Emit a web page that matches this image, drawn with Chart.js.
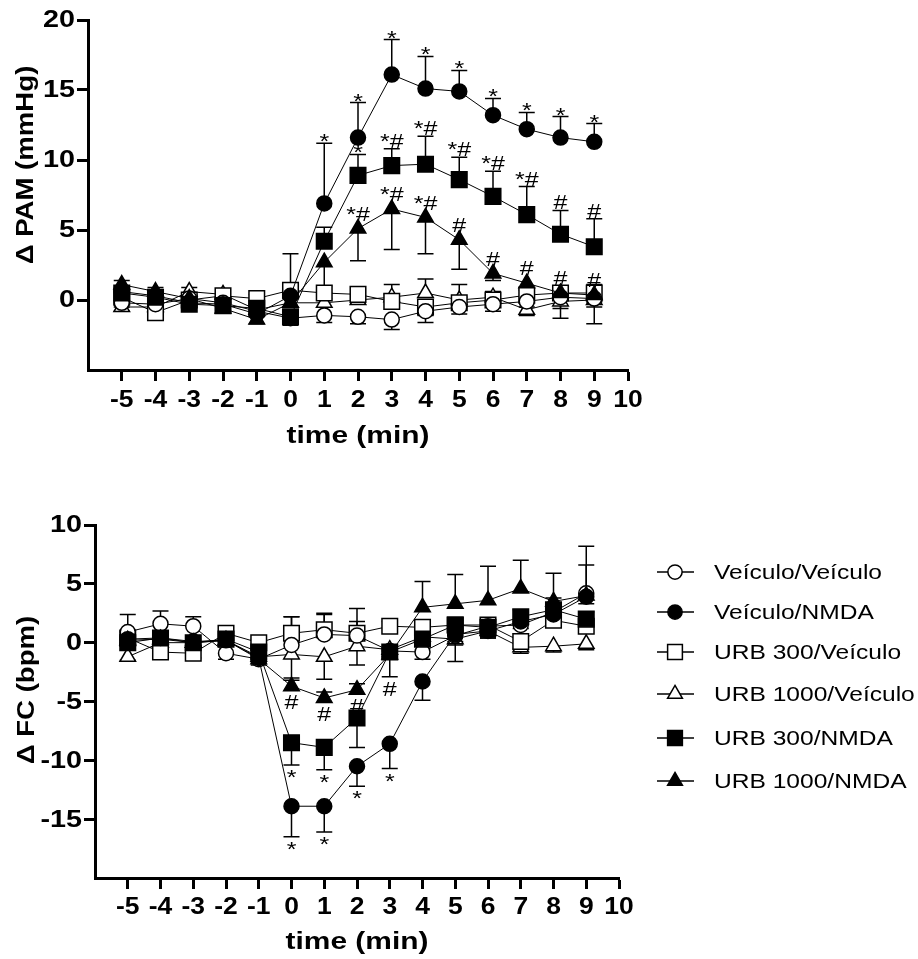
<!DOCTYPE html>
<html lang="pt">
<head>
<meta charset="UTF-8">
<title>PAM e FC - NMDA / URB</title>
<script src="https://cdn.jsdelivr.net/npm/chart.js@4"></script>
<style>
    body {
        margin: 0;
        background: #fff;
    }
    .wrap {
        position: relative;
        width: 918px;
        height: 959px;
    }
    #chart-pam { position: absolute; left: 0; top: 0; }
    #chart-fc { position: absolute; left: 0; top: 480px; }
</style>
</head>
<body>
<div class="wrap">
    <canvas id="chart-pam" width="918" height="460"></canvas>
    <canvas id="chart-fc" width="918" height="479"></canvas>
</div>
<script>
// tempos (min) e marcas dos eixos
const times = [-5, -4, -3, -2, -1, 0, 1, 2, 3, 4, 5, 6, 7, 8, 9];
const xTicks = [-5, -4, -3, -2, -1, 0, 1, 2, 3, 4, 5, 6, 7, 8, 9, 10];
const pamTicks = [0, 5, 10, 15, 20];
const fcTicks = [-15, -10, -5, 0, 5, 10];

const groupLabels = ['Veículo/Veículo', 'Veículo/NMDA', 'URB 300/Veículo', 'URB 1000/Veículo', 'URB 300/NMDA', 'URB 1000/NMDA'];

// ΔPAM (mmHg) - média e EPM (sinal = direção da barra)
const pamVehVeh = [-0.2, -0.3, 0.1, -0.2, -0.8, -1.3, -1.1, -1.2, -1.4, -0.8, -0.5, -0.3, -0.1, 0.2, 0.1];
const pamVehVehErr = [-0.3, -0.3, -0.3, -0.3, -0.4, -0.5, -0.5, -0.5, -0.7, -0.8, -0.5, -0.5, -0.4, -1.5, -1.8];
const pamVehNmda = [0.6, 0.3, -0.2, -0.3, -1.0, 0.3, 6.9, 11.6, 16.1, 15.1, 14.9, 13.2, 12.2, 11.6, 11.3];
const pamVehNmdaErr = [0.3, 0.3, 0.3, 0.3, 0.3, 3.0, 4.3, 2.5, 2.5, 2.3, 1.5, 1.2, 1.2, 1.5, 1.3];
const pamUrb300Veh = [0.2, -0.9, 0.0, 0.3, 0.1, 0.7, 0.5, 0.4, -0.1, -0.5, -0.2, 0.0, 0.35, 0.5, 0.5];
const pamUrb300VehErr = [0.3, -0.3, 0.3, 0.3, 0.3, 0.4, 0.5, 0.4, 0.5, -0.6, 0.4, 0.4, 0.4, 0.4, 0.6];
const pamUrb1000Veh = [-0.5, -0.5, 0.6, 0.4, -0.7, -0.2, -0.2, 0.0, 0.2, 0.5, 0.0, 0.2, -0.7, -0.1, 0.0];
const pamUrb1000VehErr = [-0.3, -0.3, 0.3, 0.3, -0.3, 0.3, 0.3, 0.3, 0.9, 1.0, 1.1, 0.4, -0.4, -0.5, -0.5];
const pamUrb300Nmda = [0.5, 0.2, -0.3, -0.4, -0.6, -1.2, 4.2, 8.9, 9.6, 9.7, 8.6, 7.4, 6.1, 4.7, 3.8];
const pamUrb300NmdaErr = [0.3, 0.3, 0.3, 0.3, 0.3, -0.5, 1.0, 1.5, 1.2, 2.0, 1.6, 1.8, 2.0, 1.7, 2.0];
const pamUrb1000Nmda = [1.1, 0.6, 0.1, -0.6, -1.4, -0.2, 2.7, 5.1, 6.5, 5.9, 4.3, 1.9, 1.2, 0.5, 0.35];
const pamUrb1000NmdaErr = [0.3, 0.3, 0.3, -0.3, -0.3, 0.3, -2.2, -2.3, -2.9, -2.6, -2.1, -0.5, -0.5, -0.5, -0.5];

const pamVehNmdaSig = ['', '', '', '', '', '', '*', '*', '*', '*', '*', '*', '*', '*', '*'];
const pamUrb300NmdaSig = ['', '', '', '', '', '', '', '*', '*#', '*#', '*#', '*#', '*#', '#', '#'];
const pamUrb1000NmdaSig = ['', '', '', '', '', '', '', '*#', '*#', '*#', '#', '#', '#', '#', '#'];

// ΔFC (bpm)
const fcVehVeh = [0.9, 1.6, 1.4, -0.9, -1.4, -0.2, 0.7, 0.6, -0.7, -0.8, 0.6, 1.4, 1.5, 2.6, 4.2];
const fcVehVehErr = [1.5, 1.1, 0.8, -0.5, -0.5, 2.4, 1.8, 2.3, -0.5, -0.6, -2.2, -1.0, -1.0, 1.2, 2.4];
const fcVehNmda = [0.3, 0.4, 0.1, 0.2, -1.3, -13.9, -13.9, -10.5, -8.6, -3.3, 0.7, 1.0, 1.8, 2.4, 3.9];
const fcVehNmdaErr = [-0.3, -0.3, -0.3, -0.3, -0.4, -2.6, -2.2, -1.7, -2.1, -1.6, -0.6, -0.6, -0.6, -0.6, -0.6];
const fcUrb300Veh = [0.4, -0.8, -0.9, 0.8, 0.0, 0.8, 1.1, 0.8, 1.4, 1.3, 1.5, 1.5, 0.1, 1.9, 1.4];
const fcUrb300VehErr = [0.3, -0.4, -0.4, 0.6, 0.3, 1.4, 1.3, 1.0, 0.4, 0.5, 0.4, 0.5, -0.6, 0.6, 0.5];
const fcUrb1000Veh = [-1.2, 0.0, 0.0, 0.2, -1.2, -1.0, -1.2, -0.3, -0.6, 0.5, 0.3, 1.0, -0.4, -0.3, -0.1];
const fcUrb1000VehErr = [-0.3, -0.4, -0.4, -0.4, -0.4, -2.0, -1.9, -1.6, -0.6, -0.5, -0.5, -0.5, -0.5, -0.5, -0.5];
const fcUrb300Nmda = [0.0, 0.4, 0.0, 0.3, -0.8, -8.5, -8.9, -6.4, -0.8, 0.3, 1.5, 1.3, 2.2, 2.8, 2.0];
const fcUrb300NmdaErr = [-0.3, -0.3, -0.3, -0.3, -0.3, -1.9, -1.9, -2.5, -2.1, -0.6, 0.6, 0.6, 0.6, 0.6, 0.6];
const fcUrb1000Nmda = [0.2, 0.3, 0.0, 0.2, -1.4, -3.7, -4.7, -4.0, -1.0, 3.0, 3.3, 3.6, 4.6, 3.5, 4.0];
const fcUrb1000NmdaErr = [0.3, 0.3, 0.3, 0.3, 0.3, 0.5, 0.5, 0.5, 0.5, 2.2, 2.5, 2.9, 2.4, 2.4, 4.2];

const fcVehNmdaSig = ['', '', '', '', '', '*', '*', '*', '*', '', '', '', '', '', ''];
const fcUrb300NmdaSig = ['', '', '', '', '', '*', '*', '', '#', '', '', '', '', '', ''];
const fcUrb1000NmdaSig = ['', '', '', '', '', '#', '#', '#', '', '', '', '', '', '', ''];

// símbolos de cada grupo (mesma ordem da legenda)
const markers = [
    { style: 'circle', fill: '#fff', radius: 7.5 },
    { style: 'circle', fill: '#000', radius: 7.5 },
    { style: 'rect', fill: '#fff', radius: 11 },
    { style: 'triangle', fill: '#fff', radius: 9 },
    { style: 'rect', fill: '#000', radius: 11 },
    { style: 'triangle', fill: '#000', radius: 9 }
];

const FONT = '"Liberation Sans", Arial, sans-serif';

function stretchText(ctx, str, x, y, o) {
    ctx.save();
    ctx.font = o.font;
    ctx.fillStyle = '#000';
    ctx.textAlign = o.align || 'center';
    ctx.textBaseline = o.baseline || 'middle';
    ctx.translate(x, y);
    if (o.rotate) ctx.rotate(o.rotate);
    ctx.scale(o.sx || 1, 1);
    ctx.fillText(str, 0, 0);
    ctx.restore();
}

function makeDataset(idx, values, err, sig, sigSide) {
    const m = markers[idx];
    return {
        label: groupLabels[idx],
        data: times.map((t, i) => ({ x: t, y: values[i] })),
        err: err,
        sig: sig || null,
        sigSide: sigSide,
        borderColor: '#000',
        borderWidth: 1,
        pointStyle: m.style,
        pointRadius: m.radius,
        pointHoverRadius: m.radius,
        pointBackgroundColor: m.fill,
        pointBorderColor: '#000',
        pointBorderWidth: 1.5,
        tension: 0,
        fill: false,
        clip: false,
        // símbolos cheios por cima dos vazios
        order: m.fill === '#000' ? 0 : 1
    };
}

// barras de erro (desenhadas antes das linhas e símbolos)
const errorBarsPlugin = {
    id: 'errorBars',
    beforeDatasetsDraw(chart) {
        const ctx = chart.ctx;
        const yScale = chart.scales.y;
        ctx.save();
        ctx.strokeStyle = '#000';
        ctx.lineWidth = 1.5;
        chart.data.datasets.forEach((ds, di) => {
            const meta = chart.getDatasetMeta(di);
            meta.data.forEach((pt, i) => {
                const yEnd = yScale.getPixelForValue(ds.data[i].y + ds.err[i]);
                ctx.beginPath();
                ctx.moveTo(pt.x, pt.y);
                ctx.lineTo(pt.x, yEnd);
                ctx.moveTo(pt.x - 8, yEnd);
                ctx.lineTo(pt.x + 8, yEnd);
                ctx.stroke();
            });
        });
        ctx.restore();
    },
    afterDatasetsDraw(chart) {
        // marcas de significância (* e #)
        const ctx = chart.ctx;
        const yScale = chart.scales.y;
        chart.data.datasets.forEach((ds, di) => {
            if (!ds.sig) return;
            const meta = chart.getDatasetMeta(di);
            meta.data.forEach((pt, i) => {
                const s = ds.sig[i];
                if (!s) return;
                const e = ds.err[i];
                const yEnd = yScale.getPixelForValue(ds.data[i].y + e);
                const r = ds.pointRadius * 0.75;
                if (ds.sigSide === 'up') {
                    const anchor = e > 0 ? Math.min(yEnd, pt.y - r) : pt.y - r;
                    const shift = s === '*' ? 5 : -1;
                    stretchText(ctx, s, pt.x, anchor + shift, { font: '20px ' + FONT, sx: 1.25, baseline: 'alphabetic' });
                } else {
                    const anchor = e < 0 ? Math.max(yEnd, pt.y + r * 0.6) : pt.y + r * 0.6;
                    stretchText(ctx, s, pt.x, anchor + 5 + 14, { font: '20px ' + FONT, sx: 1.25, baseline: 'alphabetic' });
                }
            });
        });
    }
};

// rótulos dos eixos e títulos
const axisTextPlugin = {
    id: 'axisText',
    afterDraw(chart, args, opts) {
        const ctx = chart.ctx;
        const xs = chart.scales.x;
        const ys = chart.scales.y;
        const tickFont = 'bold 23px ' + FONT;
        opts.yTicks.forEach(v => {
            stretchText(ctx, String(v), ys.right - 13, ys.getPixelForValue(v) + 1, { font: tickFont, sx: 1.25, align: 'right' });
        });
        xTicks.forEach(v => {
            stretchText(ctx, String(v), xs.getPixelForValue(v), opts.xLabelY, { font: tickFont, sx: 1.15 });
        });
        stretchText(ctx, 'time (min)', (xs.left + xs.right) / 2, opts.xTitleY, { font: tickFont, sx: 1.3 });
        stretchText(ctx, opts.yTitle, opts.yTitleX, opts.yTitleY, { font: tickFont, sx: 1.2, rotate: -Math.PI / 2 });
    }
};

// legenda do gráfico de FC
const legendPlugin = {
    id: 'sideLegend',
    afterDraw(chart, args, opts) {
        if (!opts.show) return;
        const ctx = chart.ctx;
        const rows = [92, 132, 172, 214, 258, 301];
        markers.forEach((m, i) => {
            const y = rows[i];
            ctx.save();
            ctx.strokeStyle = '#000';
            ctx.fillStyle = m.fill;
            ctx.lineWidth = 1.5;
            ctx.beginPath();
            ctx.moveTo(657, y);
            ctx.lineTo(694, y);
            ctx.stroke();
            Chart.helpers.drawPoint(ctx, {
                pointStyle: m.style,
                radius: m.radius * 0.95,
                rotation: 0,
                borderWidth: 1.5
            }, 675, y);
            ctx.restore();
            stretchText(ctx, groupLabels[i], 714, y + 1, { font: '21px ' + FONT, sx: 1.17, align: 'left' });
        });
    }
};

function axisOptions(yMin, yMax, yTickVals, yWidth, xHeight) {
    return {
        x: {
            type: 'linear',
            min: -6,
            max: 10,
            afterBuildTicks: s => { s.ticks = xTicks.map(v => ({ value: v })); },
            afterFit: s => { s.height = xHeight; },
            ticks: { display: false },
            grid: { display: true, drawOnChartArea: false, drawTicks: true, tickLength: 11, tickWidth: 3, tickColor: '#000' },
            border: { display: true, color: '#000', width: 3 }
        },
        y: {
            type: 'linear',
            min: yMin,
            max: yMax,
            afterBuildTicks: s => { s.ticks = yTickVals.map(v => ({ value: v })); },
            afterFit: s => { s.width = yWidth; },
            ticks: { display: false },
            grid: { display: true, drawOnChartArea: false, drawTicks: true, tickLength: 11, tickWidth: 3, tickColor: '#000' },
            border: { display: true, color: '#000', width: 3 }
        }
    };
}

Chart.defaults.animation = false;

// ΔPAM
new Chart(document.getElementById('chart-pam'), {
    type: 'line',
    data: {
        datasets: [
            makeDataset(1, pamVehNmda, pamVehNmdaErr, pamVehNmdaSig, 'up'),
            makeDataset(4, pamUrb300Nmda, pamUrb300NmdaErr, pamUrb300NmdaSig, 'up'),
            makeDataset(5, pamUrb1000Nmda, pamUrb1000NmdaErr, pamUrb1000NmdaSig, 'up'),
            makeDataset(0, pamVehVeh, pamVehVehErr),
            makeDataset(2, pamUrb300Veh, pamUrb300VehErr),
            makeDataset(3, pamUrb1000Veh, pamUrb1000VehErr)
        ]
    },
    options: {
        responsive: false,
        animation: false,
        layout: { padding: { left: 0, top: 20, right: 290, bottom: 0 } },
        scales: axisOptions(-5, 20, pamTicks, 88, 90),
        plugins: {
            legend: { display: false },
            tooltip: { enabled: false },
            axisText: { yTicks: pamTicks, xLabelY: 401, xTitleY: 437, yTitle: 'Δ PAM (mmHg)', yTitleX: 27, yTitleY: 165 },
            sideLegend: { show: false }
        }
    },
    plugins: [errorBarsPlugin, axisTextPlugin, legendPlugin]
});

// ΔFC
new Chart(document.getElementById('chart-fc'), {
    type: 'line',
    data: {
        datasets: [
            makeDataset(1, fcVehNmda, fcVehNmdaErr, fcVehNmdaSig, 'down'),
            makeDataset(4, fcUrb300Nmda, fcUrb300NmdaErr, fcUrb300NmdaSig, 'down'),
            makeDataset(5, fcUrb1000Nmda, fcUrb1000NmdaErr, fcUrb1000NmdaSig, 'down'),
            makeDataset(0, fcVehVeh, fcVehVehErr),
            makeDataset(2, fcUrb300Veh, fcUrb300VehErr),
            makeDataset(3, fcUrb1000Veh, fcUrb1000VehErr)
        ]
    },
    options: {
        responsive: false,
        animation: false,
        layout: { padding: { left: 0, top: 45, right: 299, bottom: 0 } },
        scales: axisOptions(-20, 10, fcTicks, 95, 81),
        plugins: {
            legend: { display: false },
            tooltip: { enabled: false },
            axisText: { yTicks: fcTicks, xLabelY: 428, xTitleY: 463, yTitle: 'Δ FC (bpm)', yTitleX: 28, yTitleY: 210 },
            sideLegend: { show: true }
        }
    },
    plugins: [errorBarsPlugin, axisTextPlugin, legendPlugin]
});
</script>
</body>
</html>
